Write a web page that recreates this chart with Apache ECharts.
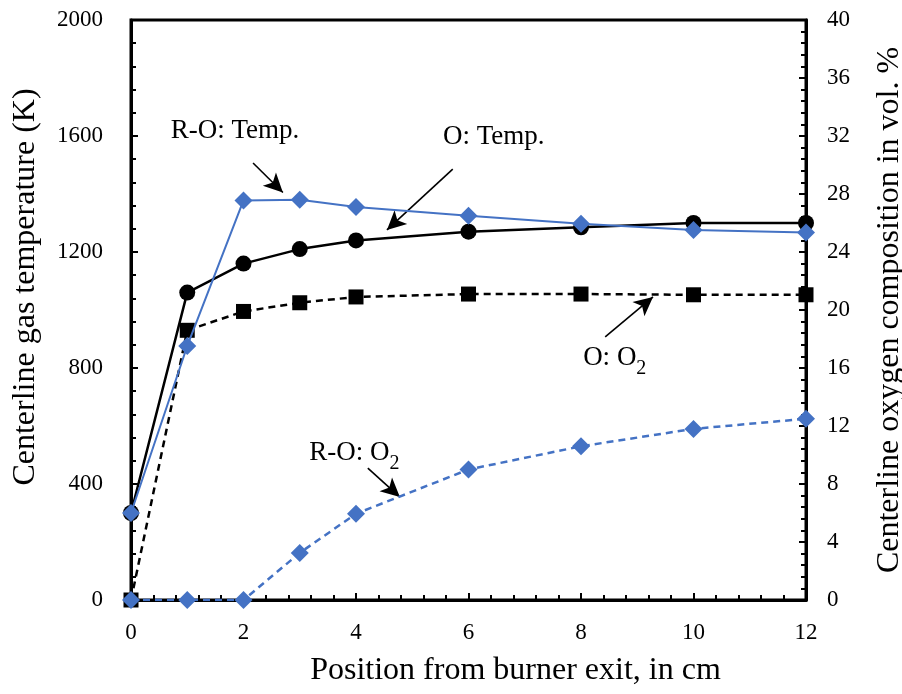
<!DOCTYPE html>
<html>
<head>
<meta charset="utf-8">
<script src="https://cdn.jsdelivr.net/npm/echarts@6/dist/echarts.min.js"></script>
<style>html,body{margin:0;padding:0;background:#fff}#c{width:902px;height:694px}</style>
</head>
<body>
<div id="c"></div>
<script>
const positions = [0, 1, 2, 3, 4, 6, 8, 10, 12];
const oTemp = [300, 1060, 1160, 1210, 1240, 1270, 1285, 1300, 1300];
const roTemp = [300, 876, 1378, 1380, 1355, 1325, 1297, 1276, 1267];
const oO2 = [0, 18.6, 19.9, 20.5, 20.9, 21.1, 21.1, 21.05, 21.05];
const roO2 = [0, 0, 0, 3.25, 5.95, 9.0, 10.6, 11.8, 12.5];

const xTitle = 'Position from burner exit, in cm';
const yLeftTitle = 'Centerline gas temperature (K)';
const yRightTitle = 'Centerline oxygen composition in vol. %';

// annotations in data units (x, left-axis temperature)
const notes = [
  {text: '{t|R-O: Temp.}', at: [1.85, 1617], from: [2.17, 1507], to: [2.70, 1405]},
  {text: '{t|O: Temp.}', at: [6.45, 1596], from: [5.72, 1486], to: [4.55, 1276]},
  {text: '{t|O: O}{s|2}', at: [8.6, 834], from: [8.43, 907], to: [9.28, 1045]},
  {text: '{t|R-O: O}{s|2}', at: [3.97, 507], from: [4.21, 455], to: [4.78, 355]}
];

const FONT = '"Liberation Serif", "Times New Roman", serif';
const BLUE = '#4472C4';
const pair = (xs, ys) => xs.map((x, i) => [x, ys[i]]);

const chart = echarts.init(document.getElementById('c'));
const axisCommon = {
  axisLine: {show: true, onZero: false, lineStyle: {color: '#000', width: 3}},
  axisTick: {show: true, inside: true, length: 7, lineStyle: {color: '#000', width: 2}},
  minorTick: {show: true, splitNumber: 5, length: 5, lineStyle: {color: '#000', width: 2}},
  splitLine: {show: false},
  axisLabel: {color: '#000', fontFamily: FONT, fontSize: 23, formatter: v => String(v)},
  nameTextStyle: {color: '#000', fontFamily: FONT, fontSize: 32}
};

chart.setOption({
  animation: false,
  backgroundColor: '#fff',
  grid: {left: 131, right: 96, top: 20, bottom: 94, outerBoundsMode: 'none', containLabel: false,
         show: true, borderColor: '#000', borderWidth: 3, backgroundColor: 'transparent'},
  xAxis: Object.assign({}, axisCommon, {
    type: 'value', min: 0, max: 12, interval: 2,
    name: xTitle, nameLocation: 'middle', nameGap: 55,
    nameTextStyle: Object.assign({}, axisCommon.nameTextStyle, {padding: [0, 0, 0, 94]}),
    axisLabel: Object.assign({}, axisCommon.axisLabel, {margin: 21})
  }),
  yAxis: [
    Object.assign({}, axisCommon, {
      type: 'value', min: 0, max: 2000, interval: 400, position: 'left',
      name: yLeftTitle, nameLocation: 'middle', nameGap: 89, nameRotate: 90,
      nameTextStyle: Object.assign({}, axisCommon.nameTextStyle, {padding: [0, 0, 0, 46]}),
      axisLabel: Object.assign({}, axisCommon.axisLabel, {margin: 28})
    }),
    Object.assign({}, axisCommon, {
      type: 'value', min: 0, max: 40, interval: 4, position: 'right',
      name: yRightTitle, nameLocation: 'middle', nameGap: 68, nameRotate: 90,
      axisLabel: Object.assign({}, axisCommon.axisLabel, {margin: 21})
    })
  ],
  series: [
    {
      name: 'O: Temp.', type: 'line', yAxisIndex: 0, data: pair(positions, oTemp),
      symbol: 'circle', symbolSize: 16, itemStyle: {color: '#000'},
      lineStyle: {color: '#000', width: 2.5}, z: 3
    },
    {
      name: 'O: O2', type: 'line', yAxisIndex: 1, data: pair(positions, oO2),
      symbol: 'rect', symbolSize: 15, itemStyle: {color: '#000'},
      lineStyle: {color: '#000', width: 2.5, type: [7, 5]}, z: 4
    },
    {
      name: 'R-O: Temp.', type: 'line', yAxisIndex: 0, data: pair(positions, roTemp),
      symbol: 'diamond', symbolSize: 18, itemStyle: {color: BLUE},
      lineStyle: {color: BLUE, width: 2}, z: 5
    },
    {
      name: 'R-O: O2', type: 'line', yAxisIndex: 1, data: pair(positions, roO2),
      symbol: 'diamond', symbolSize: 18, itemStyle: {color: BLUE},
      lineStyle: {color: BLUE, width: 2.5, type: [7, 5]}, z: 6
    },
    {
      name: 'notes', type: 'line', yAxisIndex: 0, data: [], silent: true, z: 10,
      markLine: {
        silent: true, animation: false,
        symbol: ['none', 'arrow'], symbolSize: [14, 19],
        lineStyle: {color: '#000', width: 1.6, type: 'solid'},
        label: {show: false},
        data: notes.map(n => [{coord: n.from}, {coord: n.to}])
      },
      markPoint: {
        silent: true, animation: false,
        symbol: 'circle', symbolSize: 0,
        itemStyle: {color: 'transparent'},
        label: {
          show: true, position: 'inside', color: '#000',
          formatter: p => p.data.txt,
          rich: {
            t: {fontFamily: FONT, fontSize: 27, color: '#000', lineHeight: 30},
            s: {fontFamily: FONT, fontSize: 20, color: '#000', lineHeight: 20, verticalAlign: 'bottom', padding: [0, 0, -6, 0]}
          }
        },
        data: notes.map(n => ({coord: n.at, txt: n.text, value: 0}))
      }
    }
  ]
});
</script>
</body>
</html>
